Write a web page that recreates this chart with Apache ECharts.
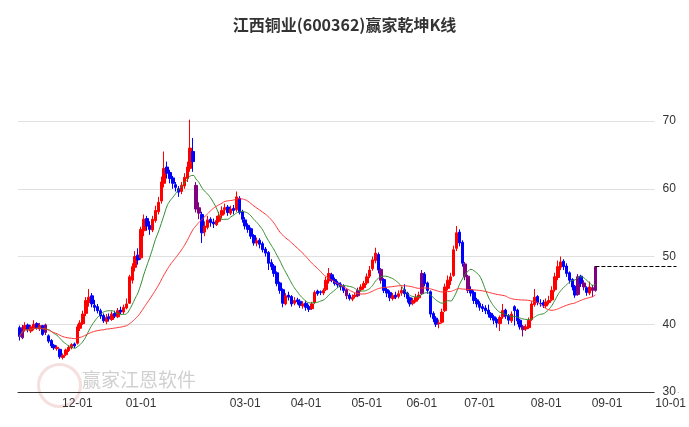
<!DOCTYPE html>
<html><head><meta charset="utf-8">
<script src="https://cdn.jsdelivr.net/npm/echarts@6/dist/echarts.min.js"></script>
<style>html,body{margin:0;padding:0;background:#fff}#c{width:689px;height:427px}</style>
</head><body><div id="c"></div>
<script>
const titleText = '江西铜业(600362)赢家乾坤K线';
const startDate = '2024-11-04';
const endDate = '2025-10-03';
const holidays = ['2025-01-01','2025-01-28','2025-01-29','2025-01-30','2025-01-31','2025-02-03','2025-02-04','2025-04-04','2025-05-01','2025-05-02','2025-05-05','2025-06-02'];
const hiddenMonths = ['02'];
const yTicks = [30, 40, 50, 60, 70];
// [open, close, low, high]
const candlesNov = [[39.5,38.2,37.6,39.8],[38.0,39.5,37.8,39.9],[39.2,39.8,38.9,40.3],[39.9,39.2,38.8,40.1],[39.0,39.6,38.7,39.9],[39.4,40.0,39.1,40.6],[40.1,39.5,39.2,40.3],[39.3,39.8,39.0,40.2],[39.8,38.5,38.3,39.9],[39.9,38.8,38.4,40.1],[38.3,37.5,37.2,38.5],[37.6,36.8,36.5,37.8],[36.9,36.5,36.2,37.1],[36.4,36.6,36.1,36.9],[36.3,35.2,34.9,36.4],[35.1,35.4,34.8,35.7],[35.5,36.2,35.3,36.4],[36.1,36.6,35.9,36.9],[36.5,37.0,36.3,37.2],[37.1,36.8,36.5,37.3]];
const candlesDec = [[37.2,39.6,37.0,40.0],[39.4,40.2,39.0,40.6],[40.1,41.5,39.9,42.0],[41.6,43.5,41.2,44.0],[43.2,44.0,42.6,45.2],[44.2,43.0,42.5,44.6],[42.8,42.5,41.9,43.6],[42.6,42.0,41.6,43.0],[42.0,41.2,40.8,42.3],[41.3,40.5,40.2,41.6],[40.4,41.0,40.0,41.5],[41.1,40.8,40.4,41.6],[40.7,41.5,40.5,41.9],[41.6,41.2,40.9,42.0],[41.1,42.0,40.9,42.4],[42.1,41.8,41.5,42.6],[41.8,42.5,41.5,42.9],[42.4,43.0,42.2,43.8],[43.1,47.0,43.0,47.3],[46.5,48.5,46.0,49.0],[48.4,50.0,47.8,50.8],[50.2,49.5,48.8,51.2]];
const candlesJan = [[49.8,54.0,49.5,54.4],[53.8,55.5,53.0,56.2],[55.6,54.5,53.8,56.0],[54.6,54.0,53.2,55.2],[53.9,55.5,53.6,56.0],[55.3,56.8,55.0,57.5],[56.6,58.0,56.2,58.8],[58.2,61.0,57.8,61.8],[60.8,63.0,60.2,65.5],[63.2,62.3,61.5,64.0],[62.4,61.5,60.8,62.8],[61.6,60.8,60.0,61.9],[60.6,60.2,59.6,61.0],[60.0,59.5,58.8,60.4],[59.6,60.5,59.2,61.0],[60.4,61.7,60.0,62.3],[61.5,63.2,61.0,64.0],[63.0,66.0,62.5,70.2]];
const candlesFeb = [[65.5,64.0,62.5,67.5],[60.5,57.0,56.5,61.0],[57.2,56.4,55.5,58.0],[56.2,53.5,52.0,56.6],[53.6,54.5,53.0,55.2],[54.3,55.4,54.0,56.0],[55.5,55.0,54.4,55.8],[55.1,54.8,54.2,55.6],[54.7,55.3,54.5,56.0],[55.2,56.0,55.0,56.6],[56.1,56.8,55.6,57.4],[56.9,57.2,56.2,57.8],[57.3,56.5,56.0,57.6],[56.4,57.0,56.1,57.5],[57.1,56.8,56.2,57.6],[56.9,58.8,56.6,59.6],[58.6,56.5,56.2,58.9],[56.6,55.5,55.0,56.9]];
const candlesMar = [[55.4,54.5,54.0,55.8],[54.6,54.0,53.5,54.9],[54.1,53.0,52.6,54.3],[53.1,52.0,51.6,53.3],[52.0,52.3,51.5,52.8],[52.4,51.8,51.2,52.7],[51.9,51.0,50.6,52.2],[51.1,50.5,50.0,51.4],[50.6,49.0,48.0,50.8],[49.1,48.5,48.0,49.6],[48.6,47.5,47.0,48.9],[47.6,46.0,45.6,47.8],[46.1,45.0,44.5,46.3],[45.1,43.1,42.5,45.3],[43.0,44.2,42.8,44.6],[44.3,44.0,43.5,44.8],[44.1,43.0,42.6,44.3],[43.1,43.5,42.8,44.0],[43.6,43.3,42.9,43.9],[43.4,42.8,42.4,43.7],[42.7,43.0,42.3,43.4]];
const candlesApr = [[43.1,42.5,42.0,43.4],[42.6,42.2,41.8,42.9],[42.3,43.0,42.1,43.3],[43.2,44.7,43.0,45.0],[44.9,44.5,44.2,45.1],[44.8,44.7,44.3,45.0],[44.6,45.0,44.3,45.3],[45.1,46.5,44.9,47.0],[46.4,47.5,46.0,48.3],[47.3,46.5,46.2,47.6],[46.6,46.0,45.7,46.9],[46.1,45.8,45.4,46.4],[45.9,45.5,45.0,46.2],[45.6,45.0,44.6,45.9],[45.1,44.2,43.7,45.3],[44.3,43.8,43.5,44.6],[43.7,44.0,43.4,44.4],[44.1,44.3,43.8,44.6],[44.2,45.0,44.0,45.4],[45.1,45.5,44.8,45.9],[45.4,46.0,45.1,46.4]];
const candlesMay = [[46.1,47.0,45.8,47.5],[47.1,48.0,46.8,48.6],[48.2,49.5,47.9,50.0],[49.4,50.5,49.0,51.3],[50.3,48.0,47.5,50.6],[48.1,46.5,46.0,48.3],[46.6,45.0,44.6,46.8],[45.1,44.6,44.0,45.4],[44.7,43.9,43.4,45.0],[43.8,44.2,43.5,44.6],[44.3,44.0,43.7,44.8],[44.1,44.5,43.8,45.0],[44.6,45.0,44.2,45.5],[45.1,44.5,44.0,45.9],[44.6,43.8,43.2,44.8],[43.9,43.0,42.6,44.1],[43.1,43.5,42.8,43.9],[43.4,44.0,43.2,44.5],[43.9,44.3,43.6,44.8]];
const candlesJun = [[44.5,47.5,44.3,48.0],[47.4,46.0,45.6,47.7],[46.1,45.0,44.5,46.3],[44.8,41.5,41.0,45.0],[41.6,40.8,40.3,41.9],[40.9,40.0,39.6,41.2],[40.1,40.2,39.4,40.7],[40.3,41.8,40.1,42.3],[42.0,45.5,41.8,46.0],[45.3,46.5,45.0,47.2],[46.4,47.0,45.8,47.6],[47.2,51.0,47.0,51.6],[51.2,53.5,50.8,54.5],[53.6,52.0,51.5,54.0],[52.1,49.0,48.5,52.4],[48.9,47.0,46.5,49.2],[47.1,45.0,44.6,47.3],[45.1,44.6,44.1,45.6],[44.7,43.5,43.0,45.0],[43.6,43.0,42.5,43.9]];
const candlesJul = [[43.1,42.5,42.0,43.4],[42.6,42.3,41.8,43.0],[42.4,42.0,41.5,42.8],[42.1,41.5,41.0,42.9],[41.6,41.0,40.6,41.8],[41.1,40.6,40.0,41.4],[40.7,40.2,39.5,41.0],[40.1,41.0,39.0,41.3],[41.1,42.0,40.8,43.0],[42.1,41.2,40.8,42.3],[41.3,40.6,40.0,41.5],[40.5,41.5,40.2,41.9],[42.6,42.0,39.8,42.8],[42.1,40.5,40.0,42.3],[40.6,39.6,39.2,40.8],[39.7,39.2,38.2,39.9],[39.3,39.6,39.0,40.0],[39.5,40.6,39.3,41.0],[40.7,43.0,40.5,43.4],[42.9,44.0,42.6,45.2],[44.1,43.2,42.8,44.3],[43.1,43.0,42.6,43.7],[43.2,42.8,42.4,43.6]];
const candlesAug = [[42.7,43.3,42.4,43.8],[43.2,43.5,42.9,44.2],[43.6,45.0,43.4,45.6],[45.1,47.0,44.8,47.6],[46.9,48.5,46.5,49.4],[48.4,49.2,48.0,50.0],[49.3,48.5,48.0,49.6],[48.6,47.5,47.0,49.0],[47.6,46.5,46.0,47.8],[46.6,45.5,45.0,46.8],[45.6,44.3,43.9,45.8],[44.4,47.0,44.2,47.4],[47.1,46.0,45.5,47.3],[46.1,45.5,45.0,46.5],[45.4,44.7,44.2,45.6],[44.6,45.5,44.3,46.3],[45.4,45.0,44.0,45.8],[45.0,48.5,44.8,48.6]];
const purpleIdx = [1, 9, 61, 62, 113, 117, 125, 139, 154, 155, 174, 193, 195, 198, 199];

const candles = [].concat(candlesNov, candlesDec, candlesJan, candlesFeb, candlesMar, candlesApr, candlesMay, candlesJun, candlesJul, candlesAug);

const dates = [];
{
  let d = new Date(startDate + 'T00:00:00Z');
  const end = new Date(endDate + 'T00:00:00Z');
  while (d <= end) {
    const s = d.toISOString().slice(0, 10);
    const wd = d.getUTCDay();
    if (wd !== 0 && wd !== 6 && holidays.indexOf(s) < 0) dates.push(s);
    d = new Date(d.getTime() + 86400000);
  }
}
const monthStart = dates.map((s, i) => i > 0 && s.slice(5, 7) !== dates[i - 1].slice(5, 7) && hiddenMonths.indexOf(s.slice(5, 7)) < 0);

function ma(n) {
  const out = [];
  for (let i = 0; i < candles.length; i++) {
    const a = Math.max(0, i - n + 1);
    let s = 0;
    for (let j = a; j <= i; j++) s += candles[j][1];
    out.push(+(s / (i - a + 1)).toFixed(2));
  }
  return out;
}

const RED = '#ff0000', BLUE = '#0000ff', PURPLE = '#800080';
const kData = candles.map((c, i) => {
  if (purpleIdx.indexOf(i) >= 0) return { value: c, itemStyle: { color: PURPLE, color0: PURPLE, borderColor: PURPLE, borderColor0: PURPLE } };
  return c;
});
const last = candles[candles.length - 1][1];

const chart = echarts.init(document.getElementById('c'));
chart.setOption({
  animation: false,
  title: { text: titleText, left: 'center', top: 12, textStyle: { fontSize: 16, fontWeight: 'bold', color: '#333', fontFamily: 'Noto Sans CJK SC' } },
  grid: { left: 18, right: 4, top: 121, bottom: 35 },
  graphic: [
    { type: 'circle', left: 36, top: 362, shape: { r: 21 }, style: { fill: 'none', stroke: 'rgba(200,80,80,0.18)', lineWidth: 3 }, z: 0 },
    { type: 'text', left: 82, top: 370, style: { text: '赢家江恩软件', fontSize: 19, fill: 'rgba(150,150,150,0.45)', fontFamily: 'Noto Sans CJK SC' }, z: 0 }
  ],
  xAxis: {
    type: 'category', data: dates, boundaryGap: true,
    axisLine: { lineStyle: { color: '#333' } },
    axisTick: { interval: (i) => monthStart[i], length: 5, lineStyle: { color: '#333' } },
    axisLabel: { interval: (i) => monthStart[i], formatter: (v) => v.slice(5, 7) + '-01', color: '#333', fontSize: 12, margin: 6 },
    splitLine: { show: false }
  },
  yAxis: {
    type: 'value', position: 'right', min: 30, max: 70, interval: 10,
    axisLine: { show: false }, axisTick: { show: false },
    axisLabel: { inside: true, color: '#333', fontSize: 12, margin: 0, backgroundColor: '#fff', padding: [0, 2, 0, 8], verticalAlign: 'middle' },
    splitLine: { lineStyle: { color: '#e0e0e0' } }
  },
  series: [
    {
      type: 'candlestick', data: kData, barWidth: 3,
      itemStyle: { color: RED, color0: BLUE, borderColor: RED, borderColor0: BLUE, borderWidth: 1 },
      markLine: {
        silent: true, symbol: 'none', label: { show: false },
        lineStyle: { type: 'dashed', color: '#000', width: 1 },
        data: [[{ coord: [dates[candles.length - 1], last] }, { coord: [dates[dates.length - 1], last] }]]
      }
    },
    { type: 'line', data: ma(10), smooth: true, symbol: 'none', lineStyle: { color: '#2e8b2e', width: 1 } },
    { type: 'line', data: ma(30), smooth: true, symbol: 'none', lineStyle: { color: '#ff3030', width: 1 } }
  ]
});
</script></body></html>
